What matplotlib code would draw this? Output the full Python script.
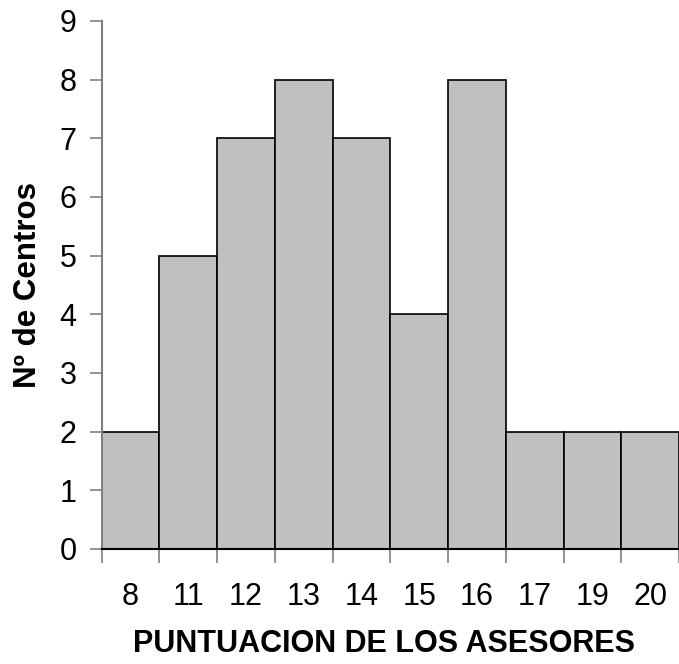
import matplotlib
matplotlib.use("Agg")
import matplotlib.pyplot as plt
import numpy as np

plt.rcParams["font.family"] = ["Liberation Sans", "DejaVu Sans"]

puntuaciones = ["8", "11", "12", "13", "14", "15", "16", "17", "19", "20"]
n_centros = [2, 5, 7, 8, 7, 4, 8, 2, 2, 2]

fig = plt.figure(figsize=(6.79, 6.64), dpi=100)
ax = fig.add_axes([0.1498, 0.1732, 0.8502, 0.7952])

x = np.arange(len(puntuaciones))
ax.bar(x, n_centros, width=1.0, color="#c0c0c0", edgecolor="black", linewidth=1.2)

ax.set_xlim(-0.5, len(puntuaciones) - 0.5)
ax.set_ylim(0, 9)
ax.set_yticks(range(0, 10))

# ticks at the bar boundaries, labels centred under each bar
ax.set_xticks(np.arange(-0.5, len(puntuaciones), 1.0))
ax.set_xticklabels([])
ax.set_xticks(x, minor=True)
ax.set_xticklabels(puntuaciones, minor=True)
ax.tick_params(axis="x", which="major", length=10, width=1.2, color="#808080")
ax.tick_params(axis="x", which="minor", length=0, pad=24, labelsize=22)
ax.tick_params(axis="y", length=9, width=1.2, color="#808080", pad=9, labelsize=22)

for side in ["top", "right"]:
    ax.spines[side].set_visible(False)
ax.spines["left"].set_color("#808080")
ax.spines["left"].set_linewidth(1.5)
ax.spines["bottom"].set_color("black")
ax.spines["bottom"].set_linewidth(1.5)

ax.set_xlabel("PUNTUACION DE LOS ASESORES", fontsize=22, fontweight="bold", labelpad=12)
ax.xaxis.label.set_x(0.489)
ax.set_ylabel("Nº de Centros", fontsize=22.5, fontweight="bold", labelpad=12)

fig.savefig("out.png", dpi=100)
